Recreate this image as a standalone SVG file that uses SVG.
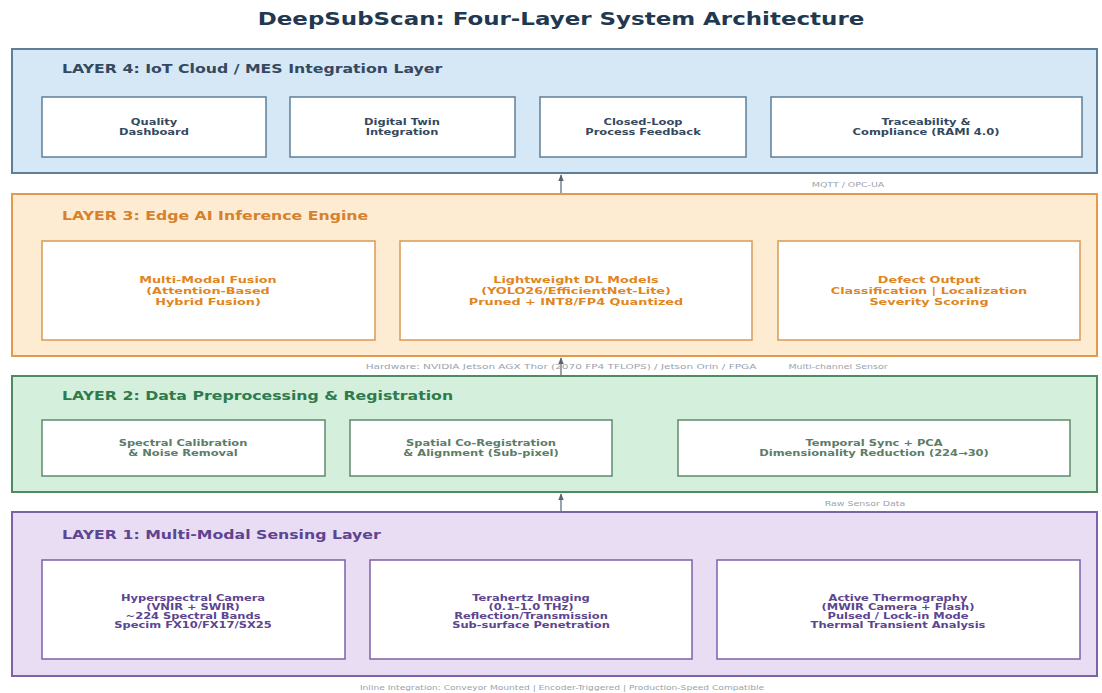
<svg xmlns="http://www.w3.org/2000/svg" width="1102" height="693" viewBox="0 0 1102 693">
<defs>
<marker id="ah" viewBox="0 0 10 10" refX="9" refY="5" markerWidth="6" markerHeight="6" orient="auto-start-reverse"><path d="M0,1 L10,5 L0,9 z" fill="#5a6470"/></marker>
<style>
text{font-family:"DejaVu Sans","Liberation Sans",sans-serif}
.title{font-size:17px;font-weight:bold;fill:#22384f;text-anchor:middle}
.lt{font-size:12.5px;font-weight:bold}
.nt{font-size:8.5px;font-weight:bold;text-anchor:middle}
.nt3{font-size:9.3px;font-weight:bold;text-anchor:middle}
.ann{font-size:7px;fill:#9aa3ab;text-anchor:middle}
.box{fill:#ffffff;stroke-width:1.5}
.layer{stroke-width:2}
.conn{stroke:#5a6470;stroke-width:1.2;fill:none}
</style>
</defs>
<rect width="1102" height="693" fill="#ffffff"/>
<text class="title" transform="translate(561,25) scale(1.35,1)">DeepSubScan: Four-Layer System Architecture</text>

<g id="layer4">
<rect class="layer" x="12" y="49" width="1085" height="124" fill="#d6e7f6" stroke="#5f7f98"/>
<text class="lt" transform="translate(62,73) scale(1.26,1)" fill="#34495e">LAYER 4: IoT Cloud / MES Integration Layer</text>
</g>
<g id="l4n1"><rect class="box" x="42" y="97" width="224" height="60" stroke="#5f7f98"/><g transform="translate(154,0) scale(1.35,1)" fill="#34495e"><text class="nt" y="125">Quality</text><text class="nt" y="135">Dashboard</text></g></g>
<g id="l4n2"><rect class="box" x="290" y="97" width="225" height="60" stroke="#5f7f98"/><g transform="translate(402,0) scale(1.35,1)" fill="#34495e"><text class="nt" y="125">Digital Twin</text><text class="nt" y="135">Integration</text></g></g>
<g id="l4n3"><rect class="box" x="540" y="97" width="206" height="60" stroke="#5f7f98"/><g transform="translate(643,0) scale(1.35,1)" fill="#34495e"><text class="nt" y="125">Closed-Loop</text><text class="nt" y="135">Process Feedback</text></g></g>
<g id="l4n4"><rect class="box" x="771" y="97" width="311" height="60" stroke="#5f7f98"/><g transform="translate(926,0) scale(1.35,1)" fill="#34495e"><text class="nt" y="125">Traceability &amp;</text><text class="nt" y="135">Compliance (RAMI 4.0)</text></g></g>

<g id="layer3">
<rect class="layer" x="12" y="194" width="1085" height="162" fill="#fdebd2" stroke="#e39a4c"/>
<text class="lt" transform="translate(62,220) scale(1.26,1)" fill="#d6812c">LAYER 3: Edge AI Inference Engine</text>
</g>
<g id="l3n1"><rect class="box" x="42" y="241" width="333" height="99" stroke="#d99a55"/><g transform="translate(208,0) scale(1.38,1)" fill="#e0861f"><text class="nt3" y="283">Multi-Modal Fusion</text><text class="nt3" y="294">(Attention-Based</text><text class="nt3" y="305">Hybrid Fusion)</text></g></g>
<g id="l3n2"><rect class="box" x="400" y="241" width="352" height="99" stroke="#d99a55"/><g transform="translate(576,0) scale(1.38,1)" fill="#e0861f"><text class="nt3" y="283">Lightweight DL Models</text><text class="nt3" y="294">(YOLO26/EfficientNet-Lite)</text><text class="nt3" y="305">Pruned + INT8/FP4 Quantized</text></g></g>
<g id="l3n3"><rect class="box" x="778" y="241" width="302" height="99" stroke="#d99a55"/><g transform="translate(929,0) scale(1.38,1)" fill="#e0861f"><text class="nt3" y="283">Defect Output</text><text class="nt3" y="294">Classification | Localization</text><text class="nt3" y="305">Severity Scoring</text></g></g>

<g id="layer2">
<rect class="layer" x="12" y="376" width="1085" height="116" fill="#d5efdd" stroke="#4f8a62"/>
<text class="lt" transform="translate(62,400) scale(1.26,1)" fill="#2f7a4c">LAYER 2: Data Preprocessing &amp; Registration</text>
</g>
<g id="l2n1"><rect class="box" x="42" y="420" width="283" height="56" stroke="#5e8a6c"/><g transform="translate(183,0) scale(1.35,1)" fill="#5c7d68"><text class="nt" y="446">Spectral Calibration</text><text class="nt" y="456">&amp; Noise Removal</text></g></g>
<g id="l2n2"><rect class="box" x="350" y="420" width="262" height="56" stroke="#5e8a6c"/><g transform="translate(481,0) scale(1.35,1)" fill="#5c7d68"><text class="nt" y="446">Spatial Co-Registration</text><text class="nt" y="456">&amp; Alignment (Sub-pixel)</text></g></g>
<g id="l2n3"><rect class="box" x="678" y="420" width="392" height="56" stroke="#5e8a6c"/><g transform="translate(874,0) scale(1.35,1)" fill="#5c7d68"><text class="nt" y="446">Temporal Sync + PCA</text><text class="nt" y="456">Dimensionality Reduction (224→30)</text></g></g>

<g id="layer1">
<rect class="layer" x="12" y="512" width="1085" height="164" fill="#e9ddf4" stroke="#7c62a6"/>
<text class="lt" transform="translate(62,539) scale(1.26,1)" fill="#5d4590">LAYER 1: Multi-Modal Sensing Layer</text>
</g>
<g id="l1n1"><rect class="box" x="42" y="560" width="303" height="99" stroke="#7c62a6"/><g transform="translate(193,0) scale(1.35,1)" fill="#5d4590"><text class="nt" y="601">Hyperspectral Camera</text><text class="nt" y="610">(VNIR + SWIR)</text><text class="nt" y="619">~224 Spectral Bands</text><text class="nt" y="628">Specim FX10/FX17/SX25</text></g></g>
<g id="l1n2"><rect class="box" x="370" y="560" width="322" height="99" stroke="#7c62a6"/><g transform="translate(531,0) scale(1.35,1)" fill="#5d4590"><text class="nt" y="601">Terahertz Imaging</text><text class="nt" y="610">(0.1–1.0 THz)</text><text class="nt" y="619">Reflection/Transmission</text><text class="nt" y="628">Sub-surface Penetration</text></g></g>
<g id="l1n3"><rect class="box" x="717" y="560" width="363" height="99" stroke="#7c62a6"/><g transform="translate(898,0) scale(1.35,1)" fill="#5d4590"><text class="nt" y="601">Active Thermography</text><text class="nt" y="610">(MWIR Camera + Flash)</text><text class="nt" y="619">Pulsed / Lock-in Mode</text><text class="nt" y="628">Thermal Transient Analysis</text></g></g>

<g id="connectors">
<line class="conn" x1="561" y1="193" x2="561" y2="175" marker-end="url(#ah)"/>
<line class="conn" x1="561" y1="375" x2="561" y2="358" marker-end="url(#ah)"/>
<line class="conn" x1="561" y1="511" x2="561" y2="494" marker-end="url(#ah)"/>
<text class="ann" transform="translate(848,187) scale(1.35,1)">MQTT / OPC-UA</text>
<text class="ann" transform="translate(561,369) scale(1.5,1)">Hardware: NVIDIA Jetson AGX Thor (2070 FP4 TFLOPS) / Jetson Orin / FPGA</text>
<text class="ann" transform="translate(838,369) scale(1.35,1)">Multi-channel Sensor</text>
<text class="ann" transform="translate(865,506) scale(1.35,1)">Raw Sensor Data</text>
<text class="ann" transform="translate(562,690) scale(1.3,1)">Inline Integration: Conveyor Mounted | Encoder-Triggered | Production-Speed Compatible</text>
</g>
</svg>
